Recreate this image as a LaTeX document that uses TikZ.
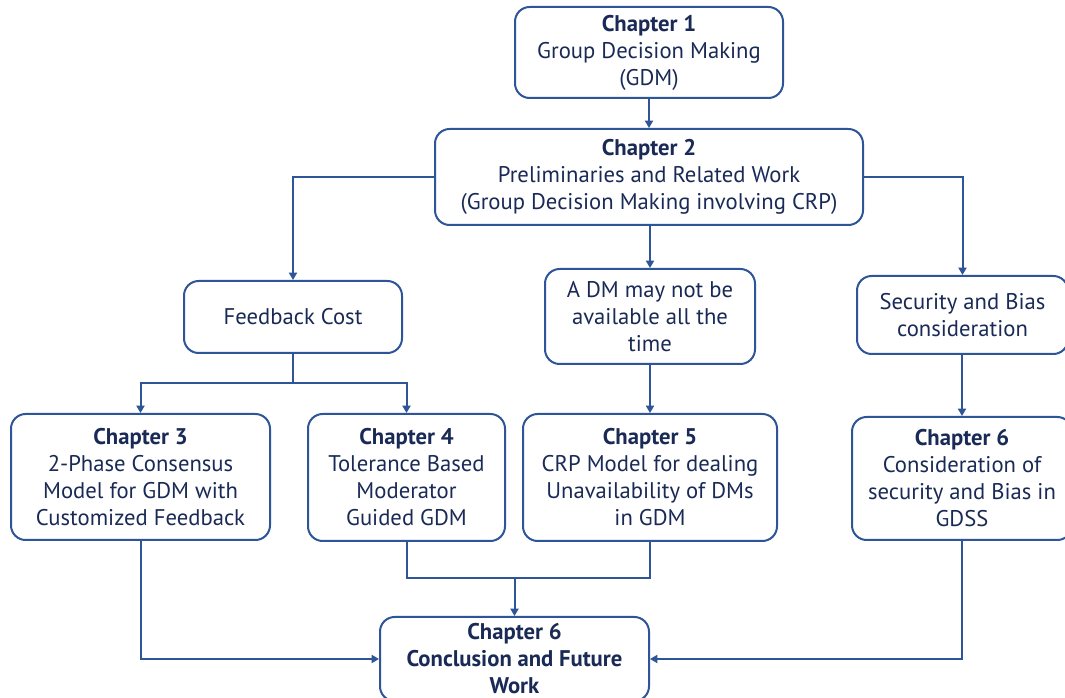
\documentclass[tikz,border=0pt]{standalone}
\usepackage{fontspec}
\setmainfont{PT Sans}
\usetikzlibrary{arrows.meta,calc}
\definecolor{bordercol}{HTML}{2E5597}
\definecolor{textcol}{HTML}{1A2A56}
\tikzset{
  box/.style={draw=bordercol, line width=1.5pt, rounded corners=11pt, fill=white,
    text=textcol, align=center, inner sep=2pt,
    font=\fontsize{17}{20.25}\selectfont},
  conn/.style={draw=bordercol, line width=1.5pt},
  arr/.style={conn, -{Triangle[length=5.5pt,width=6pt]}}
}
\begin{document}
\begin{tikzpicture}[x=0.75pt,y=-0.75pt]
\useasboundingbox (0,0) rectangle (1065,698);
\clip (0,0) rectangle (1065,698);
\fill[white] (0,0) rectangle (1065,698);
\node[box, minimum width=201pt, minimum height=68.25pt] (ch1) at (649,52.5)
  {\textbf{Chapter 1}\\Group Decision Making\\(GDM)};
\node[box, minimum width=321pt, minimum height=72pt] (ch2) at (649,177)
  {\textbf{Chapter 2}\\Preliminaries and Related Work\\(Group Decision Making involving CRP)};
\node[box, minimum width=163.5pt, minimum height=54pt] (fb) at (293,317)
  {Feedback Cost};
\node[box, minimum width=157.5pt, minimum height=71.25pt] (dm) at (650,316.5)
  {A DM may not be\\available all the\\time};
\node[box, minimum width=158.25pt, minimum height=58.5pt] (sec) at (962.5,315)
  {Security and Bias\\consideration};
\node[box, minimum width=194.25pt, minimum height=94.5pt] (ch3) at (140.5,477)
  {\textbf{Chapter 3}\\2-Phase Consensus\\Model for GDM with\\Customized Feedback};
\node[box, minimum width=147.75pt, minimum height=95.25pt] (ch4) at (406.5,477.5)
  {\textbf{Chapter 4}\\Tolerance Based\\Moderator\\Guided GDM};
\node[box, minimum width=190.5pt, minimum height=95.25pt] (ch5) at (650,477.5)
  {\textbf{Chapter 5}\\CRP Model for dealing\\Unavailability of DMs\\in GDM};
\node[box, minimum width=165pt, minimum height=92.25pt] (ch6r) at (962,478.5)
  {\textbf{Chapter 6}\\Consideration of\\security and Bias in\\GDSS};
\node[box, minimum width=201.75pt, minimum height=63pt] (ch6b) at (514.5,659)
  {\textbf{Chapter 6}\\\textbf{Conclusion and Future}\\\textbf{Work}};
\coordinate (split) at (293,383);
\coordinate (merge) at (514,578);
\draw[arr] (ch1.south) -- (ch2.north);
\draw[arr] (ch2.west) -| (fb.north);
\draw[arr] (ch2.south -| dm.north) -- (dm.north);
\draw[arr] (ch2.east) -| (sec.north);
\draw[conn] (fb.south) -- (fb.south |- split);
\draw[arr] (fb.south |- split) -| (ch3.north);
\draw[arr] (fb.south |- split) -| (ch4.north);
\draw[arr] (dm.south) -- (ch5.north);
\draw[arr] (sec.south -| ch6r.north) -- (ch6r.north);
\draw[conn] (ch4.south) |- (ch5.south |- merge) -- (ch5.south);
\draw[arr] (ch6b.north |- merge) -- (ch6b.north);
\draw[arr] (ch3.south) |- (ch6b.west);
\draw[arr] (ch6r.south) |- (ch6b.east);
\end{tikzpicture}
\end{document}
